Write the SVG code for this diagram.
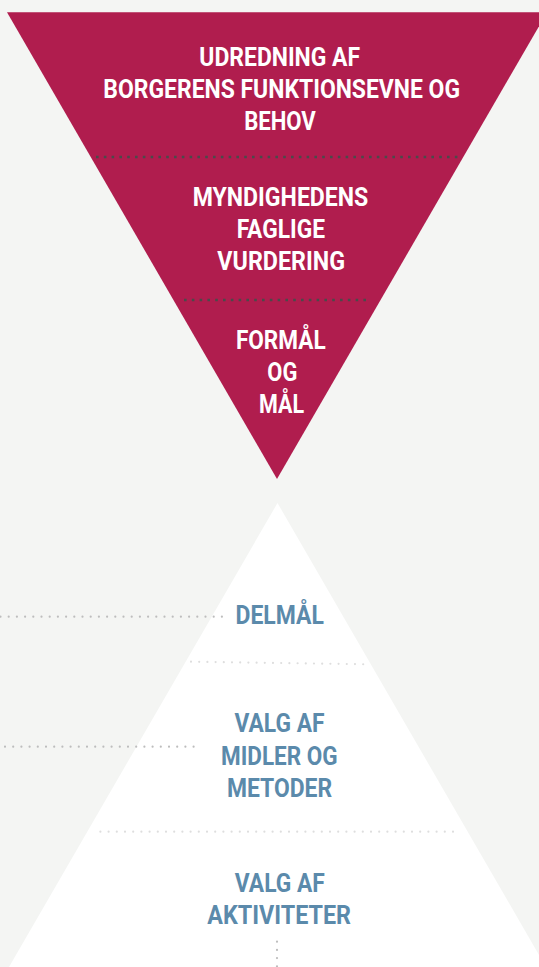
<svg xmlns="http://www.w3.org/2000/svg" width="539" height="967" viewBox="0 0 539 967">
  <defs>
    <style>
      .bg { fill: #f4f5f3; }
      .red { fill: #b01d4e; }
      .white { fill: #ffffff; }
      .tw { font-family: Roboto, "Liberation Sans", sans-serif; font-weight: 700; font-size: 25px; fill: #ffffff; text-anchor: middle; }
      .tb { font-family: Roboto, "Liberation Sans", sans-serif; font-weight: 700; font-size: 26px; fill: #5b8aab; text-anchor: middle; }
      .dotdark { stroke: #4a4a4a; stroke-width: 2.6; stroke-dasharray: 2.6 5.2; fill: none; }
      .dotlight { stroke: #dedede; stroke-width: 2.2; stroke-linecap: round; stroke-dasharray: 0 8.2; fill: none; }
      .dotgrey { stroke: #bdbdbd; stroke-width: 2.2; stroke-linecap: round; stroke-dasharray: 0 8.2; fill: none; }
    </style>
  </defs>
  <rect class="bg" x="0" y="0" width="539" height="967"/>

  <g id="top-triangle">
    <polygon class="red" points="7,12.3 547,12.3 277,479"/>
  </g>
  <g id="bottom-triangle">
    <polygon class="white" points="277.5,503 546,967 9,967"/>
  </g>

  <g id="connectors">
    <line class="dotdark" x1="96" y1="157" x2="461" y2="157"/>
    <line class="dotdark" x1="184" y1="300" x2="371" y2="300"/>
    <line class="dotlight" x1="191" y1="661.7" x2="368" y2="664.3"/>
    <line class="dotlight" x1="100.4" y1="831.7" x2="459" y2="831.7"/>
    <line class="dotgrey" x1="0.5" y1="616.7" x2="223" y2="616.7"/>
    <line class="dotgrey" x1="5" y1="746.7" x2="200" y2="746.7"/>
    <line class="dotgrey" x1="277" y1="941.7" x2="277" y2="967"/>
  </g>

  <g id="node-udredning">
    <text class="tw" x="279.7" y="66" textLength="160.7" lengthAdjust="spacingAndGlyphs">UDREDNING AF</text>
    <text class="tw" x="281.7" y="98" textLength="356.7" lengthAdjust="spacingAndGlyphs">BORGERENS FUNKTIONSEVNE OG</text>
    <text class="tw" x="280" y="130" textLength="71.7" lengthAdjust="spacingAndGlyphs">BEHOV</text>
  </g>
  <g id="node-vurdering">
    <text class="tw" x="280.5" y="206" textLength="175.7" lengthAdjust="spacingAndGlyphs">MYNDIGHEDENS</text>
    <text class="tw" x="280.8" y="238" textLength="88.3" lengthAdjust="spacingAndGlyphs">FAGLIGE</text>
    <text class="tw" x="281.2" y="270" textLength="127.7" lengthAdjust="spacingAndGlyphs">VURDERING</text>
  </g>
  <g id="node-formaal">
    <text class="tw" x="280.8" y="349" textLength="89.7" lengthAdjust="spacingAndGlyphs">FORMÅL</text>
    <text class="tw" x="282.3" y="381" textLength="30" lengthAdjust="spacingAndGlyphs">OG</text>
    <text class="tw" x="281.5" y="413" textLength="45" lengthAdjust="spacingAndGlyphs">MÅL</text>
  </g>
  <g id="node-delmaal">
    <text class="tb" x="279.7" y="624" textLength="88.3" lengthAdjust="spacingAndGlyphs">DELMÅL</text>
  </g>
  <g id="node-midler">
    <text class="tb" x="279.5" y="732" textLength="90" lengthAdjust="spacingAndGlyphs">VALG AF</text>
    <text class="tb" x="279.3" y="765" textLength="116.6" lengthAdjust="spacingAndGlyphs">MIDLER OG</text>
    <text class="tb" x="279.5" y="797" textLength="105.2" lengthAdjust="spacingAndGlyphs">METODER</text>
  </g>
  <g id="node-aktiviteter">
    <text class="tb" x="279.8" y="892" textLength="90" lengthAdjust="spacingAndGlyphs">VALG AF</text>
    <text class="tb" x="279.2" y="924" textLength="143.7" lengthAdjust="spacingAndGlyphs">AKTIVITETER</text>
  </g>
</svg>
